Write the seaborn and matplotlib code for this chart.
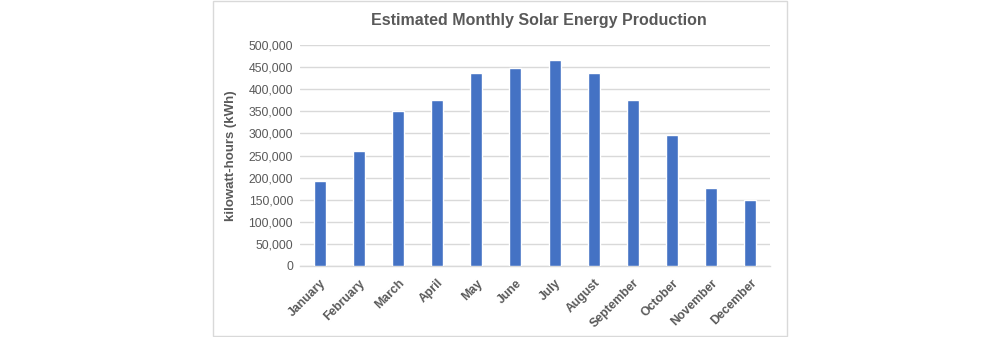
import matplotlib
matplotlib.use("Agg")
import matplotlib.pyplot as plt
import seaborn as sns
import pandas as pd
from matplotlib.patches import Rectangle
from matplotlib.ticker import FuncFormatter, MultipleLocator

months = ["January", "February", "March", "April", "May", "June", "July",
          "August", "September", "October", "November", "December"]
production = [193000, 260000, 351000, 375000, 437000, 448000, 466000,
              437000, 375000, 296000, 177000, 150000]

df = pd.DataFrame({"month": months, "kwh": production})

sns.set_theme(style="white")
plt.rcParams['font.family'] = ['Liberation Sans', 'DejaVu Sans']

fig = plt.figure(figsize=(10, 3.37), dpi=100)
ax = fig.add_axes([0.300, 1 - 266 / 337, 0.470, 221 / 337])

sns.barplot(data=df, x="month", y="kwh", color="#4472C4", width=0.31,
            saturation=1, ax=ax, zorder=3)

gray = "#595959"
ax.set_ylim(0, 500000)
ax.yaxis.set_major_locator(MultipleLocator(50000))
ax.yaxis.set_major_formatter(FuncFormatter(lambda v, p: f"{int(v):,}"))
ax.set_xlim(-0.5, 11.5)
ax.grid(axis="y", color="#d9d9d9", linewidth=1, zorder=0)
ax.set_axisbelow(True)
for s in ["top", "right", "left"]:
    ax.spines[s].set_visible(False)
ax.spines["bottom"].set_color("#d9d9d9")
ax.spines["bottom"].set_linewidth(1)

ax.tick_params(axis="y", length=0, labelsize=8.8, labelcolor=gray, pad=5)
ax.tick_params(axis="x", length=0, labelsize=8.8, labelcolor=gray, pad=8)
for lab in ax.get_xticklabels():
    lab.set_rotation(45)
    lab.set_ha("right")
    lab.set_rotation_mode("anchor")
    lab.set_fontweight("bold")

ax.set_xlabel("")
ax.set_ylabel("kilowatt-hours (kWh)", fontsize=9.5, fontweight="bold",
              color=gray, labelpad=8)

fig.text(0.539, 1 - 20 / 337, "Estimated Monthly Solar Energy Production",
         ha="center", va="center", fontsize=11.5, fontweight="bold", color=gray)

fig.patches.append(Rectangle((213 / 1000, 1 / 337), 574 / 1000, 335 / 337,
                             transform=fig.transFigure, fill=False,
                             edgecolor="#d9d9d9", linewidth=1))

fig.savefig("out.png", dpi=100, facecolor="white")
